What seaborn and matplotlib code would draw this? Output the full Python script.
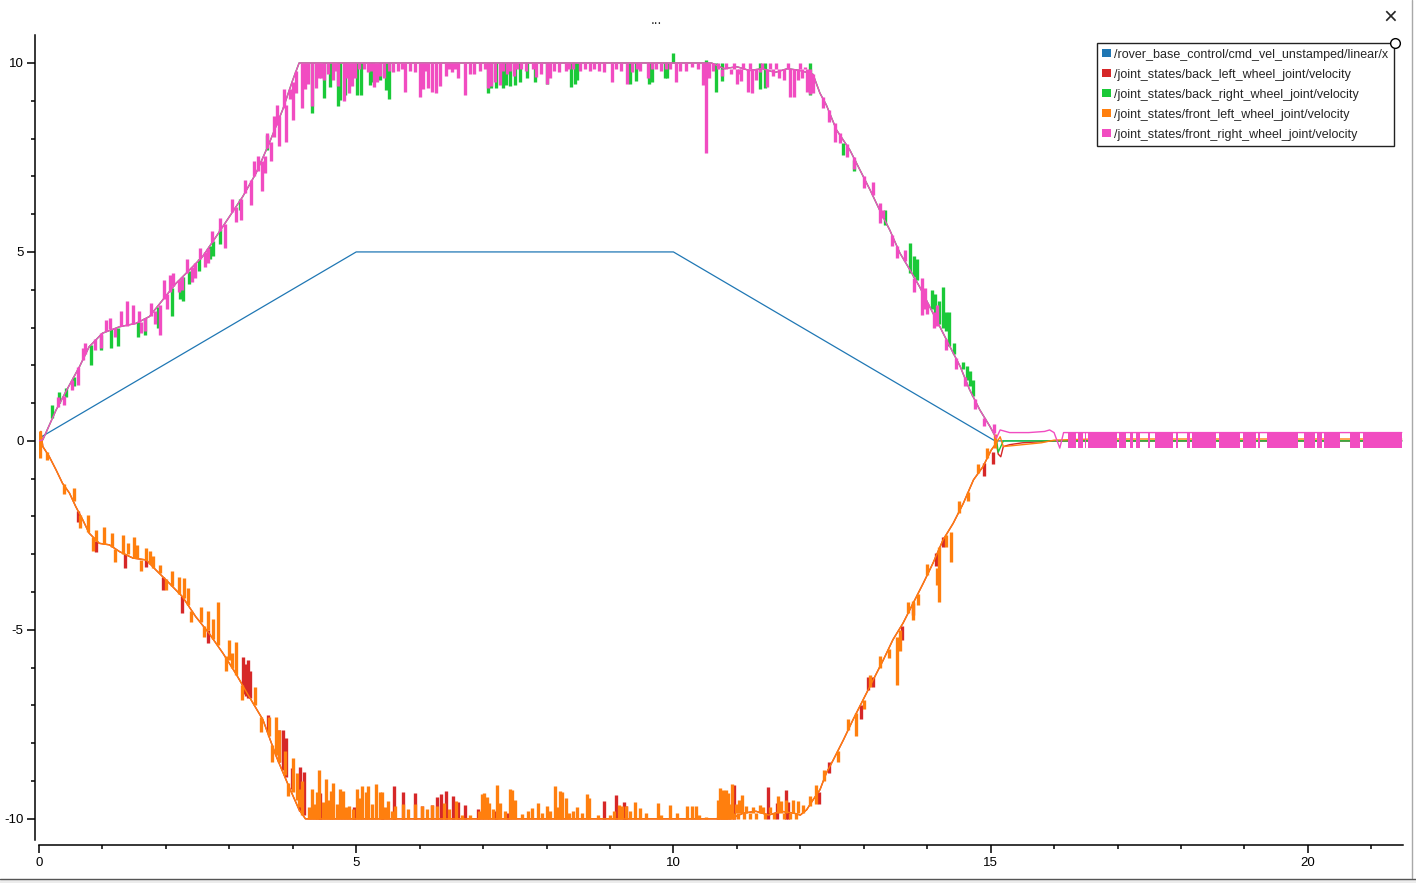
import matplotlib
matplotlib.use("Agg")
import matplotlib.pyplot as plt
import seaborn as sns
from matplotlib.patches import Patch, Rectangle
from matplotlib.lines import Line2D
from matplotlib.ticker import MultipleLocator

# ---------------- data ----------------
labels = [
    "/rover_base_control/cmd_vel_unstamped/linear/x",
    "/joint_states/back_left_wheel_joint/velocity",
    "/joint_states/back_right_wheel_joint/velocity",
    "/joint_states/front_left_wheel_joint/velocity",
    "/joint_states/front_right_wheel_joint/velocity",
]
colors = ["#1f77b4", "#d62728", "#1ac938", "#ff7f0e", "#f14cc1"]

# commanded velocity
cmd_t = [0.0, 0.05, 5.0, 10.0, 15.07, 21.48]
cmd_v = [0.0, 0.12, 5.0, 5.0, 0.0, 0.0]

# right wheels (shared trend)
right_up_t = [0.0, 0.06, 0.27, 0.48, 0.64, 0.79, 1.0, 1.27, 1.53, 1.74, 1.95, 2.16, 2.37,
              2.58, 2.79, 3.0, 3.21, 3.42, 3.63, 3.84, 4.0, 4.1]
right_up_v = [0.0, 0.03, 0.82, 1.48, 1.97, 2.49, 2.85, 3.02, 3.11, 3.29, 3.73, 4.17, 4.52,
              4.88, 5.40, 5.93, 6.46, 7.08, 7.88, 8.76, 9.55, 10.0]
right_down_t = [10.6, 10.8, 11.0, 11.2, 11.4, 11.6, 11.8, 12.0, 12.2, 12.31, 12.41, 12.57,
                12.78, 12.94, 13.1, 13.25, 13.41, 13.57, 13.73, 13.88, 14.04, 14.2, 14.36,
                14.52, 14.67, 14.83, 14.99, 15.09]
right_down_v = [10.0, 9.85, 9.9, 9.8, 9.85, 9.75, 9.85, 9.8, 9.7, 9.2, 8.89, 8.23, 7.70,
                7.17, 6.64, 6.11, 5.58, 4.97, 4.52, 4.08, 3.55, 3.02, 2.49, 1.97, 1.35,
                0.82, 0.38, 0.07]
pink_tail_t = [15.15, 15.3, 15.6, 15.85, 15.93, 16.0, 16.09, 16.15, 21.48]
pink_tail_v = [0.29, 0.22, 0.22, 0.25, 0.29, 0.22, -0.19, 0.22, 0.22]
green_tail_t = [15.12, 15.2, 21.48]
green_tail_v = [-0.3, 0.0, 0.0]

# left wheels (shared trend)
left_down_t = [0.0, 0.03, 0.06, 0.16, 0.27, 0.37, 0.48, 0.58, 0.69, 0.79, 0.95, 1.11, 1.27,
               1.48, 1.69, 1.84, 2.05, 2.26, 2.47, 2.68, 2.9, 3.1, 3.31, 3.53, 3.74, 3.94,
               4.1, 4.2]
left_down_v = [0.0, 0.25, -0.15, -0.41, -0.77, -1.12, -1.38, -1.74, -2.09, -2.44, -2.71,
               -2.75, -2.93, -3.1, -3.15, -3.41, -3.76, -4.12, -4.65, -5.09, -5.62, -6.15,
               -6.76, -7.38, -8.35, -9.15, -9.76, -10.0]
left_up_t = [10.9, 11.1, 11.3, 11.5, 11.7, 11.9, 12.0, 12.1, 12.2, 12.31, 12.41, 12.52,
             12.68, 12.83, 12.99, 13.15, 13.31, 13.46, 13.62, 13.78, 13.94, 14.09, 14.25,
             14.41, 14.57, 14.73, 14.88, 15.01, 15.09]
left_up_v = [-10.0, -9.85, -9.8, -9.9, -9.8, -9.85, -9.9, -9.76, -9.5, -9.23, -8.79, -8.44,
             -7.91, -7.38, -6.85, -6.32, -5.79, -5.26, -4.82, -4.29, -3.76, -3.24, -2.62,
             -2.18, -1.65, -1.03, -0.68, -0.24, -0.06]
orange_tail_t = [15.15, 15.2, 15.5, 15.8, 16.0, 16.6, 21.48]
orange_tail_v = [0.11, -0.15, -0.1, -0.05, 0.02, 0.05, 0.05]
red_tail_t = [15.12, 15.16, 15.2, 15.3, 15.5, 16.0, 21.48]
red_tail_v = [-0.35, -0.42, -0.15, -0.1, -0.05, 0.0, 0.0]

# ---- front right (pink) spikes on the ramps: time, from, to ----
pink_ramp_t = [0.3, 0.4, 0.52, 0.62, 0.7, 0.73, 0.88, 0.98, 1.05, 1.12, 1.2, 1.3, 1.38,
               1.48, 1.57, 1.6, 1.67, 1.76, 1.83, 1.90, 1.97, 2.02, 2.07, 2.12, 2.2, 2.26,
               2.33, 2.41, 2.46, 2.53, 2.62, 2.66, 2.72, 2.85, 2.93, 3.05, 3.1, 3.18, 3.25,
               3.34, 3.39, 3.45, 3.51, 3.56, 3.6, 3.66, 3.7, 3.75, 3.79, 3.86, 3.90, 3.95,
               4.00, 4.05,
               12.2, 12.35, 12.45, 12.545, 12.63, 12.73, 12.85, 13.0, 13.15, 13.26, 13.31,
               13.45, 13.52, 13.65, 13.8, 13.92, 13.97, 14.0, 14.1, 14.15, 14.3, 14.45,
               14.6, 14.75, 14.9, 15.05]
pink_ramp_from = [0.9, 1.2, 1.6, 1.95, 2.15, 2.30, 2.7, 2.85, 2.90, 2.95, 3.0, 3.05, 3.05,
                  3.10, 3.15, 3.15, 3.25, 3.3, 3.45, 3.60, 3.75, 3.9, 3.95, 4.1, 4.25, 4.35,
                  4.45, 4.6, 4.70, 4.8, 5.0, 5.10, 5.25, 5.55, 5.75, 6.05, 6.2, 6.40, 6.55,
                  6.90, 7.00, 7.15, 7.40, 7.55, 7.75, 7.90, 8.05, 8.35, 8.60, 8.8, 8.90, 9.3,
                  9.50, 9.8,
                  9.7, 9.1, 8.75, 8.4, 8.14, 7.85, 7.5, 7.0, 6.5, 6.3, 6.1,
                  5.45, 5.15, 4.75, 4.3, 4.3, 4.05, 3.65, 3.4, 3.6, 2.7, 2.2,
                  1.7, 1.1, 0.6, 0.2]
pink_ramp_to = [1.15, 0.95, 1.35, 1.47, 2.45, 2.60, 2.4, 2.45, 3.20, 3.25, 2.75, 3.45, 3.70,
                3.60, 3.45, 2.85, 2.90, 3.65, 3.1, 2.80, 4.26, 3.5, 4.40, 4.45, 3.95, 4.00,
                4.8, 4.2, 4.30, 5.1, 4.6, 4.70, 5.55, 5.9, 5.10, 6.4, 5.8, 5.85, 6.9,
                6.25, 7.40, 7.55, 6.62, 7.1, 8.15, 7.40, 8.6, 8.9, 7.80, 9.3, 7.90, 9.05,
                8.50, 9.2,
                9.2, 8.8, 8.45, 7.92, 7.88, 7.5, 7.2, 6.7, 6.85, 5.76, 5.9,
                5.15, 4.85, 5.05, 3.95, 3.33, 3.5, 3.35, 3.0, 3.03, 2.4, 1.9,
                1.45, 0.85, 0.4, 0.45]
# pink dips from the 10 plateau
pink_dip_t = [4.14, 4.2, 4.24, 4.30, 4.37, 4.41, 4.45, 4.5, 4.56, 4.63, 4.67, 4.71, 4.80,
              4.84, 4.88, 4.93, 4.98, 5.05, 5.13, 5.19, 5.24, 5.28, 5.33, 5.38, 5.44, 5.52,
              5.58, 5.66, 5.72, 5.77, 5.85, 5.93, 6.0, 6.05, 6.09, 6.13, 6.2, 6.25, 6.32,
              6.41, 6.46, 6.51, 6.56, 6.61, 6.72, 6.79, 6.85, 6.95, 7.03, 7.08, 7.13, 7.19,
              7.27, 7.32, 7.37, 7.43, 7.48, 7.54, 7.59, 7.68, 7.78, 7.84, 7.91, 8.0, 8.05,
              8.12, 8.2, 8.3, 8.36, 8.42, 8.53, 8.61, 8.68, 8.75, 8.82, 8.9, 9.03, 9.1,
              9.18, 9.27, 9.35, 9.42, 9.47, 9.6, 9.66, 9.72, 9.8, 9.88, 9.95, 10.04, 10.1,
              10.2, 10.3, 10.38, 10.46, 10.51, 10.56, 10.63]
pink_dip_to = [8.8, 9.3, 9.45, 8.85, 9.33, 9.6, 9.6, 9.55, 9.7, 9.55, 9.8, 9.4, 9.0,
               9.6, 9.2, 9.4, 9.6, 9.85, 9.85, 9.75, 9.8, 9.37, 9.5, 9.65, 9.6, 9.8,
               9.75, 9.8, 9.85, 9.24, 9.8, 9.75, 9.1, 9.3, 9.8, 9.33, 9.24, 9.2, 9.4,
               9.65, 9.85, 9.75, 9.85, 9.6, 9.15, 9.7, 9.7, 9.8, 9.85, 9.33, 9.38, 9.5,
               9.42, 9.8, 9.7, 9.8, 9.65, 9.85, 9.85, 9.8, 9.85, 9.64, 9.7, 9.44, 9.6,
               9.8, 9.75, 9.8, 9.85, 9.85, 9.8, 9.85, 9.8, 9.85, 9.8, 9.75, 9.49, 9.85,
               9.8, 9.44, 9.75, 9.85, 9.8, 9.6, 9.85, 9.85, 9.8, 9.85, 9.85, 9.5, 9.8,
               9.8, 9.9, 9.85, 9.42, 7.61, 9.6, 9.8]
# noisy stretch before the ramp down (from 9.85)
pink_noise_t = [10.7, 10.76, 10.83, 10.9, 10.95, 11.0, 11.04, 11.06, 11.1, 11.17, 11.2,
                11.24, 11.3, 11.36, 11.4, 11.48, 11.52, 11.57, 11.62, 11.67, 11.74, 11.8,
                11.84, 11.9, 11.97, 12.0, 12.02, 12.07, 12.1, 12.15]
pink_noise_to = [10.0, 9.65, 10.0, 9.7, 10.0, 9.45, 9.7, 9.53, 10.0, 9.24, 10.0,
                 9.2, 9.55, 9.75, 10.0, 9.37, 10.0, 9.65, 10.0, 9.6, 9.55, 10.0,
                 9.11, 9.11, 9.55, 10.0, 9.6, 9.9, 9.24, 9.17]
# rapid switching after t = 16 (intervals)
pink_burst_start = [16.22, 16.29, 16.38, 16.49, 16.54, 17.03, 17.19, 17.29, 17.48, 17.59,
                    17.92, 18.10, 18.18, 18.60, 18.98, 19.22, 19.36, 19.94, 20.14, 20.25,
                    20.66, 20.87]
pink_burst_end = [16.28, 16.35, 16.46, 16.51, 16.99, 17.14, 17.24, 17.36, 17.51, 17.88,
                  17.96, 18.14, 18.56, 18.93, 19.18, 19.24, 19.85, 20.11, 20.22, 20.50,
                  20.83, 21.48]
pink_burst_low = -0.2
pink_burst_high = 0.22

# ---- back right (green) spikes ----
green_ramp_t = [0.2, 0.32, 0.43, 0.55, 0.82, 0.98, 1.14, 1.24, 1.56, 1.67, 1.88, 2.10, 2.22,
                2.27, 2.37, 2.52, 2.69, 2.75, 2.86, 3.17, 3.6,
                12.67, 12.85, 13.33, 13.73, 13.79, 13.84, 14.07, 14.12, 14.18, 14.25, 14.3,
                14.35, 14.42, 14.57, 14.62, 14.68, 14.72]
green_ramp_from = [0.6, 1.0, 1.4, 1.7, 2.55, 2.8, 2.95, 3.0, 3.15, 3.25, 3.55, 4.05, 4.25,
                   4.35, 4.5, 4.8, 5.15, 5.3, 5.6, 6.4, 7.7,
                   7.87, 7.43, 6.1, 4.43, 4.35, 4.25, 3.5, 3.3, 3.1, 3.0, 2.9,
                   2.5, 2.3, 1.9, 1.6, 1.45, 1.2]
green_ramp_to = [0.95, 1.3, 1.15, 1.45, 2.0, 2.4, 2.45, 2.5, 2.75, 2.8, 3.0, 3.3, 3.75,
                 3.7, 4.15, 4.5, 4.8, 4.9, 5.2, 6.1, 8.1,
                 7.56, 7.13, 5.7, 5.23, 4.88, 4.8, 4.0, 3.9, 3.7, 4.08, 3.4,
                 3.4, 2.6, 2.1, 1.97, 1.85, 1.6]
green_dip_t = [4.31, 4.50, 4.58, 4.71, 4.74, 4.83, 5.02, 5.07, 5.21, 5.27, 5.37, 5.47, 5.52,
               7.07, 7.12, 7.2, 7.31, 7.36, 7.42, 7.5, 7.58, 7.69, 7.82, 8.0, 8.39, 8.45,
               8.48, 9.32, 9.41, 9.61, 9.66, 9.86, 9.9, 9.99, 10.51, 10.67, 10.76, 11.36,
               11.44, 12.16]
green_dip_to = [8.67, 9.07, 9.37, 8.85, 9.02, 9.15, 9.15, 9.15, 9.42, 9.5, 9.55, 9.28, 9.05,
                9.2, 9.35, 9.33, 9.35, 9.42, 9.38, 9.42, 9.5, 9.6, 9.5, 9.44, 9.37, 9.45,
                9.55, 9.45, 9.52, 9.45, 9.5, 9.59, 9.59, 10.26, 10.08, 9.24, 9.53, 9.3,
                9.33, 9.15]

# ---- front left (orange) spikes ----
orange_ramp_t = [0.02, 0.12, 0.4, 0.55, 0.65, 0.77, 0.85, 0.9, 1.03, 1.15, 1.2, 1.33, 1.4,
                 1.49, 1.55, 1.6, 1.69, 1.75, 1.8, 1.91, 2.0, 2.1, 2.21, 2.28, 2.35, 2.4,
                 2.55, 2.6, 2.66, 2.75, 2.82, 2.95, 2.99, 3.05, 3.11, 3.2, 3.4, 3.5, 3.62,
                 3.68, 3.73, 3.79, 3.87, 3.92, 4.01, 4.06, 4.1, 4.15,
                 12.15, 12.25, 12.38, 12.6, 12.75, 12.88, 13.0, 13.1, 13.25, 13.4, 13.52,
                 13.57, 13.7, 13.78, 13.85, 14.0, 14.15, 14.18, 14.3, 14.37, 14.5, 14.65,
                 14.8, 14.95, 15.07]
orange_ramp_from = [-0.45, -0.3, -1.15, -1.6, -1.95, -2.4, -2.55, -2.65, -2.72, -2.8, -2.85,
                    -2.98, -3.0, -3.1, -3.1, -3.15, -3.15, -3.25, -3.35, -3.5, -3.65, -3.85,
                    -4.05, -4.15, -4.35, -4.5, -4.8, -4.9, -5.0, -5.25, -5.4, -5.7, -5.8,
                    -6.0, -6.2, -6.45, -7.0, -7.3, -7.8, -8.05, -8.3, -8.5, -8.85, -9.05,
                    -9.3, -9.5, -9.7, -9.9,
                    -9.65, -9.1, -9.0, -8.2, -7.65, -7.2, -6.85, -6.5, -6.0, -5.5, -5.2,
                    -5.0, -4.55, -4.23, -4.05, -3.55, -3.37, -2.8, -2.5, -2.4, -1.9, -1.35,
                    -0.85, -0.45, -0.2]
orange_ramp_to = [0.25, -0.5, -1.4, -1.25, -2.3, -1.96, -2.9, -2.35, -2.27, -2.45, -3.2,
                  -2.49, -2.7, -2.53, -2.75, -3.45, -2.84, -2.9, -3.05, -3.28, -3.95, -3.45,
                  -3.59, -3.63, -3.9, -4.8, -4.4, -5.2, -4.5, -4.7, -4.25, -6.1, -5.28,
                  -5.6, -5.31, -6.85, -6.5, -7.7, -7.3, -8.5, -7.3, -7.65, -8.2, -9.4,
                  -8.39, -8.79, -9.2, -9.0,
                  -9.4, -9.6, -8.7, -8.5, -7.35, -7.82, -7.1, -6.2, -5.7, -5.75, -6.45,
                  -5.55, -4.25, -4.74, -4.35, -3.25, -3.81, -4.25, -2.8, -3.2, -1.6, -1.6,
                  -0.6, -0.2, 0.17]
orange_dip_t = [4.25, 4.30, 4.35, 4.38, 4.42, 4.47, 4.52, 4.57, 4.61, 4.64, 4.69, 4.74, 4.79,
                4.84, 4.89, 4.95, 5.02, 5.06, 5.09, 5.15, 5.19, 5.25, 5.31, 5.37, 5.41,
                5.46, 5.50, 5.56, 5.61, 5.73, 5.82, 5.92, 6.03, 6.11, 6.19, 6.27, 6.38, 6.46,
                6.58, 6.66, 6.8, 6.93, 6.99, 7.02, 7.06, 7.10, 7.16, 7.22, 7.26, 7.35, 7.42,
                7.46, 7.5, 7.61, 7.7, 7.77, 7.87, 7.93, 8.0, 8.06, 8.13, 8.17, 8.22, 8.25,
                8.3, 8.36, 8.41, 8.48, 8.56, 8.63, 8.67, 8.81, 9.0, 9.07, 9.15, 9.19, 9.25,
                9.32, 9.39, 9.47, 9.57, 9.75, 9.81, 9.94, 10.06, 10.21, 10.29, 10.35, 10.41,
                10.52, 10.7, 10.73, 10.76, 10.78, 10.81, 10.83, 10.86, 10.9, 10.93]
orange_dip_to = [-9.7, -9.21, -9.6, -9.3, -8.70, -9.55, -8.95, -9.5, -9.26, -9.06, -9.6,
                 -9.22, -9.26, -9.7, -9.67, -9.75, -9.22, -9.45, -9.14, -9.28, -9.14, -9.6,
                 -9.07, -9.28, -9.3, -9.7, -9.54, -9.8, -9.67, -9.6, -9.75, -9.6, -9.67,
                 -9.75, -9.63, -9.67, -9.59, -9.75, -9.54, -9.9, -9.9, -9.8, -9.34, -9.32,
                 -9.41, -9.59, -9.75, -9.1, -9.59, -9.8, -9.2, -9.23, -9.5, -9.87, -9.8,
                 -9.72, -9.57, -9.85, -9.66, -9.8, -9.14, -9.7, -9.26, -9.3, -9.45, -9.85,
                 -9.8, -9.69, -9.85, -9.34, -9.45, -9.9, -9.9, -9.8, -9.63, -9.67, -9.66,
                 -9.8, -9.56, -9.72, -9.85, -9.59, -9.9, -9.63, -9.85, -9.67, -9.67, -9.66,
                 -9.9, -9.95, -9.5, -9.19, -9.4, -9.23, -9.45, -9.23, -9.32, -9.6, -9.08]
orange_noise_t = [10.96, 10.99, 11.02, 11.04, 11.08, 11.12, 11.15, 11.2, 11.26, 11.3, 11.36,
                  11.41, 11.45, 11.52, 11.58, 11.65, 11.7, 11.74, 11.78, 11.84, 11.89,
                  11.93, 11.97, 12.05]
orange_noise_to = [-10.0, -9.6, -10.0, -9.5, -9.37, -10.0, -9.65, -10.0, -9.69, -10.0,
                   -9.63, -9.69, -10.0, -9.69, -10.0, -9.39, -9.54, -10.0, -9.5, -10.0,
                   -9.5, -10.0, -9.54, -9.63]

# ---- back left (red) spikes ----
red_ramp_t = [0.62, 0.9, 1.35, 1.69, 1.96, 2.26, 2.66, 3.22, 3.26, 3.29, 3.33, 3.61, 3.79,
              3.84, 3.9, 3.99, 4.12, 4.17,
              12.3, 12.45, 12.95, 13.07, 13.15, 13.6, 13.78, 14.14, 14.25, 14.9, 15.03]
red_ramp_from = [-1.85, -2.65, -3.0, -3.15, -3.6, -4.1, -5.0, -6.7, -6.75, -6.8, -6.8, -7.7,
                 -8.5, -8.7, -8.9, -9.2, -9.8, -9.9,
                 -9.3, -8.5, -7.0, -6.25, -6.25, -4.9, -4.3, -3.3, -2.8, -0.59, -0.3]
red_ramp_to = [-2.15, -2.95, -3.37, -3.33, -3.94, -4.56, -5.35, -5.71, -5.9, -5.8, -6.1,
               -7.25, -7.65, -7.65, -7.87, -8.66, -8.62, -8.75,
               -9.6, -8.8, -7.35, -6.6, -6.5, -5.26, -4.6, -2.97, -2.53, -0.94, -0.6]
red_dip_t = [4.43, 4.96, 5.41, 5.59, 5.73, 5.92, 6.03, 6.19, 6.28, 6.34, 6.41, 6.52, 6.61,
             6.72, 6.92, 7.2, 7.4, 8.91, 9.09, 9.22, 9.25, 10.7, 10.96, 11.49, 11.64, 11.77,
             11.81]
red_dip_to = [-9.32, -9.7, -9.7, -9.14, -9.28, -9.32, -9.67, -9.63, -9.41, -9.34, -9.26,
              -9.39, -9.55, -9.63, -9.75, -9.8, -9.85, -9.52, -9.37, -9.56, -9.66, -9.95,
              -9.1, -9.16, -9.59, -9.23, -9.55]

# ---------------- figure ----------------
sns.set_style("ticks")
plt.rcParams["font.family"] = ["Liberation Sans", "DejaVu Sans"]
plt.rcParams["axes.unicode_minus"] = False

W, H = 1416, 883
fig = plt.figure(figsize=(W / 100, H / 100), dpi=100)
ax = fig.add_axes([39 / W, 43 / H, 1364 / W, 805 / H])

blue, red, green, orange, pink = colors
LW = 1.0
SW = 2.4

# commanded
sns.lineplot(x=cmd_t, y=cmd_v, ax=ax, color=blue, lw=0.9, estimator=None, sort=False,
             legend=False, zorder=2)

# back left (red)
sns.lineplot(x=left_down_t + left_up_t + red_tail_t, y=left_down_v + left_up_v + red_tail_v,
             ax=ax, color=red, lw=LW, estimator=None, sort=False, legend=False, zorder=3)
ax.vlines(red_ramp_t, red_ramp_from, red_ramp_to, colors=red, lw=SW, zorder=3)
ax.vlines(red_dip_t, -10.0, red_dip_to, colors=red, lw=SW, zorder=3)

# back right (green)
sns.lineplot(x=right_up_t + right_down_t + green_tail_t,
             y=right_up_v + right_down_v + green_tail_v,
             ax=ax, color=green, lw=LW, estimator=None, sort=False, legend=False, zorder=4)
ax.vlines(green_ramp_t, green_ramp_from, green_ramp_to, colors=green, lw=SW, zorder=4)
ax.vlines(green_dip_t, 10.0, green_dip_to, colors=green, lw=SW, zorder=4)

# front left (orange)
sns.lineplot(x=left_down_t + left_up_t + orange_tail_t,
             y=left_down_v + left_up_v + orange_tail_v,
             ax=ax, color=orange, lw=LW, estimator=None, sort=False, legend=False, zorder=5)
ax.vlines(orange_ramp_t, orange_ramp_from, orange_ramp_to, colors=orange, lw=SW, zorder=5)
ax.vlines(orange_dip_t, -10.0, orange_dip_to, colors=orange, lw=SW, zorder=5)
ax.vlines(orange_noise_t, -9.85, orange_noise_to, colors=orange, lw=SW, zorder=5)

# front right (pink)
sns.lineplot(x=right_up_t + right_down_t + pink_tail_t,
             y=right_up_v + right_down_v + pink_tail_v,
             ax=ax, color=pink, lw=LW, estimator=None, sort=False, legend=False, zorder=6)
ax.vlines(pink_ramp_t, pink_ramp_from, pink_ramp_to, colors=pink, lw=SW, zorder=6)
ax.vlines(pink_dip_t, 10.0, pink_dip_to, colors=pink, lw=SW, zorder=6)
ax.vlines(pink_noise_t, 9.85, pink_noise_to, colors=pink, lw=SW, zorder=6)
for a, b in zip(pink_burst_start, pink_burst_end):
    ax.fill_between([a, b], pink_burst_low, pink_burst_high, color=pink, lw=0, zorder=6)

# axes styling
ax.set_xlim(0, 21.5)
ax.set_ylim(-10.56, 10.74)
ax.xaxis.set_major_locator(MultipleLocator(5))
ax.xaxis.set_minor_locator(MultipleLocator(1))
ax.yaxis.set_major_locator(MultipleLocator(5))
ax.yaxis.set_minor_locator(MultipleLocator(1))
for s in ("top", "right"):
    ax.spines[s].set_visible(False)
ax.spines["left"].set_position(("outward", 3))
ax.spines["bottom"].set_position(("outward", 3.6))
for s in ("left", "bottom"):
    ax.spines[s].set_linewidth(1.1)
    ax.spines[s].set_color("black")
ax.tick_params(which="major", length=6, width=1.1, direction="out", labelsize=9.5,
               colors="black")
ax.tick_params(which="minor", length=3, width=1.1, direction="out", colors="black")
ax.tick_params(axis="y", which="major", pad=2)
ax.tick_params(axis="x", which="major", pad=3)
ax.set_xlabel("")
ax.set_ylabel("")

handles = [Patch(facecolor=c, edgecolor="none") for c in colors]
leg = ax.legend(handles, labels, loc="upper right",
                bbox_to_anchor=(1394 / W, 1 - 43 / H), bbox_transform=fig.transFigure,
                frameon=True, fancybox=False, edgecolor="#222222", framealpha=1,
                fontsize=9.0, handlelength=0.65, handleheight=0.65, handletextpad=0.3,
                labelspacing=0.64, borderpad=0.45, borderaxespad=0)
leg.get_frame().set_linewidth(1.0)
leg.set_zorder(20)

# window decorations
fig.text(656 / W, 1 - 20 / H, "...", ha="center", va="center", fontsize=10)
fig.text(1390 / W, 1 - 18 / H, "×", ha="center", va="center", fontsize=17)
fig.add_artist(Line2D([1395 / W], [1 - 43 / H], marker="o", markersize=7,
                      markerfacecolor="white", markeredgecolor="black", linestyle="none",
                      zorder=30))
fig.add_artist(Line2D([1411.5 / W] * 2, [5 / H, 1], color="#a8a8a8", lw=1.0))
fig.add_artist(Rectangle((0, 0), 1, 4 / H, transform=fig.transFigure,
                         facecolor="#ececec", edgecolor="none"))
fig.add_artist(Line2D([0, 1], [4.5 / H] * 2, color="#555555", lw=1.0))

fig.savefig("out.png", dpi=100)
